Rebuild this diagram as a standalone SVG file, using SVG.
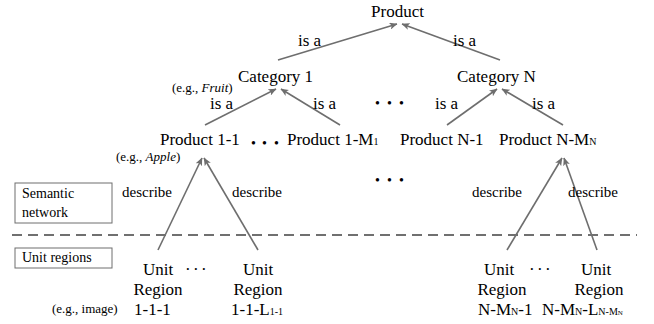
<svg xmlns="http://www.w3.org/2000/svg" width="654" height="324" viewBox="0 0 654 324" font-family="'Liberation Serif', 'Times New Roman', serif">
<style>
text{font-family:'Liberation Serif','Times New Roman',serif;fill:#000}
.m{font-size:17px}
.s{font-size:13px}
.b{font-size:14px}
.d{font-size:15px}
.sub{font-size:10px}
.tiny{font-size:7px}
.e{fill:none;stroke:#6e6e6e;stroke-width:1.6}
.box{fill:#fff;stroke:#6e6e6e;stroke-width:1}
</style>
<defs>
<marker id="ah" viewBox="0 0 8 7" refX="7.5" refY="3.5" markerWidth="8" markerHeight="7" markerUnits="userSpaceOnUse" orient="auto">
<path d="M0,0 L8,3.5 L0,7 L2,3.5 z" fill="#6e6e6e"/>
</marker>
</defs>
<rect width="654" height="324" fill="#fff"/>
<g id="connectors">
<line class="e" x1="278" y1="60" x2="397" y2="24" marker-end="url(#ah)"/>
<line class="e" x1="500" y1="60" x2="402" y2="24" marker-end="url(#ah)"/>
<line class="e" x1="205" y1="125" x2="276" y2="89" marker-end="url(#ah)"/>
<line class="e" x1="340" y1="125" x2="281" y2="89" marker-end="url(#ah)"/>
<line class="e" x1="447" y1="125" x2="497" y2="89" marker-end="url(#ah)"/>
<line class="e" x1="563" y1="125" x2="502" y2="89" marker-end="url(#ah)"/>
<line class="e" x1="158" y1="250" x2="202" y2="158" marker-end="url(#ah)"/>
<line class="e" x1="258" y1="250" x2="204" y2="158" marker-end="url(#ah)"/>
<line class="e" x1="507" y1="250" x2="562" y2="158" marker-end="url(#ah)"/>
<line class="e" x1="597" y1="250" x2="564" y2="158" marker-end="url(#ah)"/>
<text class="m" x="298" y="46">is a</text>
<text class="m" x="453" y="46">is a</text>
<text class="m" x="210" y="109">is a</text>
<text class="m" x="313" y="109">is a</text>
<text class="m" x="435" y="109">is a</text>
<text class="m" x="532" y="109">is a</text>
<text class="d" x="122" y="197">describe</text>
<text class="d" x="232" y="197">describe</text>
<text class="d" x="472" y="197">describe</text>
<text class="d" x="568" y="197">describe</text>
</g>
<g id="separator">
<line x1="12" y1="235" x2="637" y2="235" stroke="#707070" stroke-width="2" stroke-dasharray="10,6"/>
</g>
<g id="product"><text class="m" x="397.5" y="17" text-anchor="middle">Product</text></g>
<g id="category1">
<text class="m" x="238" y="82">Category 1</text>
<text class="s" x="172" y="92">(e.g., <tspan font-style="italic">Fruit</tspan>)</text>
</g>
<g id="categoryN"><text class="m" x="457" y="82">Category N</text></g>
<g id="dots-top"><text class="b" x="375 387 399" y="107.5">•••</text></g>
<g id="product1-1">
<text class="m" x="160" y="145">Product 1-1</text>
<text class="s" x="116" y="160.5">(e.g., <tspan font-style="italic">Apple</tspan>)</text>
</g>
<g id="dots-p1"><text class="b" x="251 262 274" y="147.5">•••</text></g>
<g id="product1-M1"><text class="m" x="287" y="145">Product 1-M<tspan class="sub">1</tspan></text></g>
<g id="productN-1"><text class="m" x="400" y="145">Product N-1</text></g>
<g id="productN-MN"><text class="m" x="499" y="145">Product N-M<tspan class="sub">N</tspan></text></g>
<g id="dots-mid"><text class="b" x="375 387 399" y="184.5">•••</text></g>
<g id="legend-semantic">
<rect class="box" x="15" y="183" width="97" height="40"/>
<text class="b" x="22" y="198">Semantic</text>
<text class="b" x="22" y="217">network</text>
</g>
<g id="legend-unit">
<rect class="box" x="15" y="248" width="97" height="20"/>
<text class="b" x="22" y="262">Unit regions</text>
</g>
<g id="unit-1-1-1">
<text class="m" x="158" y="275" text-anchor="middle">Unit</text>
<text class="m" x="158" y="295" text-anchor="middle">Region</text>
<text class="m" x="134" y="315">1-1-1</text>
<text class="s" x="52" y="313">(e.g., image)</text>
</g>
<g id="dots-u1"><text class="m" x="185 193 201" y="275">···</text></g>
<g id="unit-1-1-L">
<text class="m" x="258" y="275" text-anchor="middle">Unit</text>
<text class="m" x="258" y="295" text-anchor="middle">Region</text>
<text class="m" x="231" y="315">1-1-L<tspan class="sub">1-1</tspan></text>
</g>
<g id="unit-N-MN-1">
<text class="m" x="499" y="275" text-anchor="middle">Unit</text>
<text class="m" x="502" y="295" text-anchor="middle">Region</text>
<text class="m" x="478" y="315">N-M<tspan class="sub">N</tspan>-1</text>
</g>
<g id="dots-uN"><text class="m" x="529 537 545" y="275">···</text></g>
<g id="unit-N-MN-L">
<text class="m" x="596" y="275" text-anchor="middle">Unit</text>
<text class="m" x="599" y="295" text-anchor="middle">Region</text>
<text class="m" x="542" y="315">N-M<tspan class="sub">N</tspan>-L<tspan class="sub">N-M</tspan><tspan class="tiny">N</tspan></text>
</g>
</svg>
